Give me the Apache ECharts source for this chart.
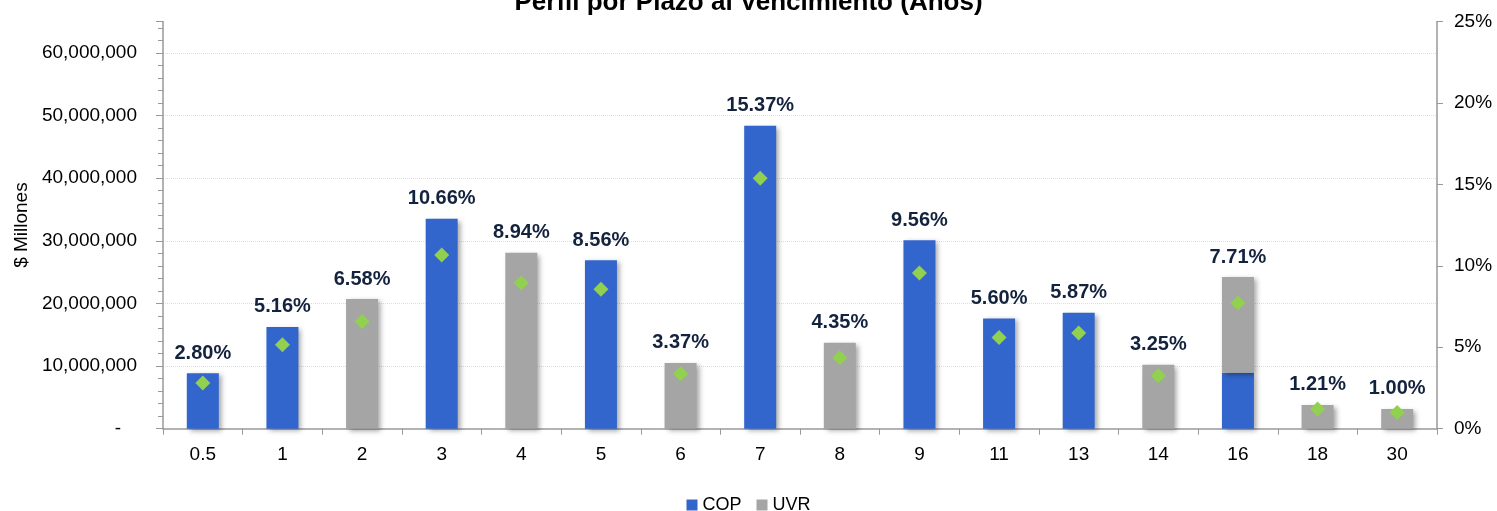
<!DOCTYPE html>
<html>
<head>
<meta charset="utf-8">
<script src="https://cdn.jsdelivr.net/npm/echarts@6/dist/echarts.min.js"></script>
<style>
html,body{margin:0;padding:0;background:#fff;}
#chart{width:1497px;height:511px;}
</style>
</head>
<body>
<div id="chart"></div>
<script>
const categories = ['0.5','1','2','3','4','5','6','7','8','9','11','13','14','16','18','30'];
const copValues = [8850000, 16250000, 0, 33500000, 0, 26900000, 0, 48350000, 0, 30100000, 17600000, 18500000, 0, 8950000, 0, 0];
const uvrValues = [0, 0, 20700000, 0, 28100000, 0, 10500000, 0, 13700000, 0, 0, 0, 10200000, 15250000, 3800000, 3150000];
const pctValues = [2.80, 5.16, 6.58, 10.66, 8.94, 8.56, 3.37, 15.37, 4.35, 9.56, 5.60, 5.87, 3.25, 7.71, 1.21, 1.00];
const leftTicks = [10000000, 20000000, 30000000, 40000000, 50000000, 60000000];

const FONT = '"Liberation Sans", Arial, sans-serif';
const totals = copValues.map((v, i) => v + uvrValues[i]);
const pctFraction = pctValues.map(v => v / 100);

const shadow = {shadowColor: 'rgba(0,0,0,0.35)', shadowBlur: 5, shadowOffsetX: 3, shadowOffsetY: 2};

const chart = echarts.init(document.getElementById('chart'), null, {renderer: 'canvas'});
chart.setOption({
  animation: false,
  backgroundColor: '#ffffff',
  title: {
    text: 'Perfil por Plazo al Vencimiento (Años)',
    left: 'center',
    top: -15,
    textStyle: {fontFamily: FONT, fontWeight: 'bold', fontSize: 26, color: '#000'}
  },
  legend: {
    data: ['COP', 'UVR'],
    left: 'center',
    top: 491,
    itemWidth: 11,
    itemHeight: 11,
    itemGap: 15,
    icon: 'rect',
    textStyle: {fontFamily: FONT, fontSize: 18, color: '#000'}
  },
  grid: {left: 163, right: 60, top: 21.5, bottom: 82.3, containLabel: false, outerBoundsMode: 'none'},
  xAxis: {
    type: 'category',
    data: categories,
    axisLine: {lineStyle: {color: '#999', width: 1.5}},
    axisTick: {show: true, length: 6, lineStyle: {color: '#999'}},
    axisLabel: {fontFamily: FONT, fontSize: 19, color: '#000', margin: 17}
  },
  yAxis: [
    {
      type: 'value',
      name: '$ Millones',
      nameLocation: 'middle',
      nameRotate: 90,
      nameGap: 131,
      nameTextStyle: {fontFamily: FONT, fontSize: 19, color: '#000'},
      min: 0,
      max: 65000000,
      interval: 10000000,
      axisLine: {show: true, lineStyle: {color: '#999', width: 1.5}},
      axisTick: {show: true, length: 7, lineStyle: {color: '#999'}},
      minorTick: {show: true, splitNumber: 5, length: 5, lineStyle: {color: '#999'}},
      splitLine: {show: false},
      axisLabel: {
        fontFamily: FONT, fontSize: 19, color: '#000', margin: 26,
        formatter: v => v === 0 ? '-   ' : (v > 60000000 ? '' : v.toLocaleString('en-US'))
      }
    },
    {
      type: 'value',
      min: 0,
      max: 0.25,
      interval: 0.05,
      position: 'right',
      axisLine: {show: true, lineStyle: {color: '#999', width: 1.5}},
      axisTick: {show: true, length: 6, lineStyle: {color: '#999'}},
      splitLine: {show: false},
      axisLabel: {
        fontFamily: FONT, fontSize: 19, color: '#000', margin: 17,
        formatter: v => Math.round(v * 100) + '%'
      }
    }
  ],
  series: [
    {
      name: 'COP',
      type: 'bar',
      stack: 'total',
      barWidth: 32,
      data: copValues,
      itemStyle: Object.assign({color: '#3366CC'}, shadow),
      markLine: {
        silent: true,
        symbol: 'none',
        label: {show: false},
        lineStyle: {color: '#DDDDDD', type: 'dotted', width: 1},
        data: leftTicks.map(v => ({yAxis: v})),
        z: 0
      }
    },
    {
      name: 'UVR',
      type: 'bar',
      stack: 'total',
      barWidth: 32,
      data: uvrValues,
      itemStyle: Object.assign({color: '#A5A5A5'}, shadow)
    },
    {
      name: 'labels',
      type: 'scatter',
      data: totals,
      symbolSize: 0,
      itemStyle: {color: '#13223D', opacity: 1},
      label: {
        show: true,
        position: 'top',
        distance: 10,
        fontFamily: FONT,
        fontSize: 20,
        fontWeight: 'bold',
        color: '#13223D',
        opacity: 1
      ,
        formatter: p => pctValues[p.dataIndex].toFixed(2) + '%'
      },
      z: 5
    },
    {
      name: 'pct',
      type: 'scatter',
      yAxisIndex: 1,
      data: pctFraction,
      symbol: 'diamond',
      symbolSize: 15,
      itemStyle: {color: '#92D050', opacity: 1},
      z: 6
    }
  ]
});
</script>
</body>
</html>
